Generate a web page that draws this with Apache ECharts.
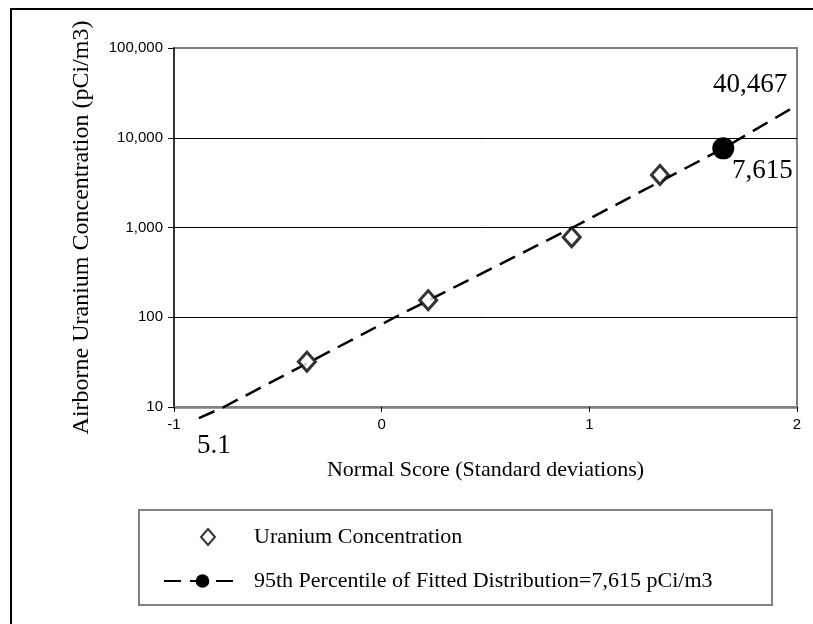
<!DOCTYPE html>
<html>
<head>
<meta charset="utf-8">
<script src="https://cdn.jsdelivr.net/npm/echarts@6/dist/echarts.min.js"></script>
<style>
  html, body { margin: 0; padding: 0; background: #fff; }
  #chart { width: 813px; height: 624px; }
</style>
</head>
<body>
<div id="chart"></div>
<script>
// measured points (normal score, pCi/m3)
const normalScores = [-0.36, 0.224, 0.915, 1.34];
const concentrations = [32, 155, 780, 3850];

// fitted lognormal line
const fitScores = [-0.88, -0.76, 0.064, 0.92, 1.645, 2.0];
const fitValues = [7.5, 10, 100, 1000, 7615, 23000];
const percentileIdx = 4;
const fitNotes = ['5.1', '7,615', '40,467'];

const xTicks = [-1, 0, 1, 2];
const yTicks = [10, 100, 1000, 10000, 100000];

const serif = 'Liberation Serif';
const sans = 'Liberation Sans';

const chart = echarts.init(document.getElementById('chart'));

const fitData = fitScores.map((x, i) => {
    const item = { value: [x, fitValues[i]] };
    if (i !== percentileIdx) item.symbolSize = 0;
    return item;
});
const noteStyle = { show: true, color: '#000', fontFamily: serif, fontSize: 27, position: 'inside', align: 'center', verticalAlign: 'middle' };
fitData[0].label = Object.assign({}, noteStyle, { formatter: fitNotes[0], offset: [15, 28] });
fitData[percentileIdx].label = Object.assign({}, noteStyle, { formatter: fitNotes[1], offset: [39, 23] });
fitData[fitData.length - 1].label = Object.assign({}, noteStyle, { formatter: fitNotes[2], offset: [-47, -20] });

chart.setOption({
    animation: false,
    backgroundColor: '#fff',
    grid: {
        left: 174,
        right: 16,
        top: 48,
        bottom: 217,
        show: true,
        borderColor: '#808080',
        borderWidth: 2
    },
    legend: [
        {
            data: ['Uranium Concentration'],
            left: 200,
            top: 526,
            itemWidth: 14,
            itemHeight: 16,
            padding: 0,
            textStyle: { fontFamily: serif, fontSize: 22, color: '#000', padding: [0, 0, 0, 34] }
        },
        {
            data: ['95th Percentile of Fitted Distribution=7,615 pCi/m3'],
            left: 163,
            top: 570,
            itemWidth: 77,
            itemHeight: 17,
            padding: 0,
            textStyle: { fontFamily: serif, fontSize: 22, color: '#000', padding: [0, 0, 0, 8] }
        }
    ],
    xAxis: {
        type: 'value',
        min: xTicks[0],
        max: xTicks[xTicks.length - 1],
        interval: 1,
        name: 'Normal Score (Standard deviations)',
        nameLocation: 'middle',
        nameGap: 52,
        nameTextStyle: { fontFamily: serif, fontSize: 22, color: '#000' },
        axisLine: { show: true, onZero: false, lineStyle: { color: '#808080', width: 2.5 } },
        axisTick: { show: true, length: 5, lineStyle: { color: '#000', width: 1 } },
        axisLabel: { fontFamily: sans, fontSize: 15, color: '#000', margin: 10 },
        splitLine: { show: false }
    },
    yAxis: {
        type: 'log',
        logBase: 10,
        min: yTicks[0],
        max: yTicks[yTicks.length - 1],
        name: 'Airborne Uranium Concentration (pCi/m3)',
        nameLocation: 'middle',
        nameRotate: 90,
        nameGap: 80,
        nameTextStyle: { fontFamily: serif, fontSize: 24, color: '#000' },
        axisLine: { show: true, onZero: false, lineStyle: { color: '#333', width: 2 } },
        axisTick: { show: true, length: 6, lineStyle: { color: '#000', width: 1 } },
        axisLabel: {
            fontFamily: sans, fontSize: 15, color: '#000', margin: 11,
            formatter: v => Math.round(v).toLocaleString('en-US')
        },
        splitLine: { show: true, lineStyle: { color: ['#808080', '#000', '#000', '#000', '#808080'], width: 1 } },
        minorTick: { show: false }
    },
    graphic: [
        {
            type: 'rect',
            shape: { x: 11, y: 9, width: 840, height: 660 },
            style: { fill: 'none', stroke: '#000', lineWidth: 2 },
            silent: true
        },
        {
            type: 'rect',
            shape: { x: 139, y: 510, width: 633, height: 95 },
            style: { fill: 'none', stroke: '#808080', lineWidth: 2 },
            silent: true
        }
    ],
    series: [
        {
            name: '95th Percentile of Fitted Distribution=7,615 pCi/m3',
            type: 'line',
            data: fitData,
            clip: false,
            symbol: 'circle',
            symbolSize: 22,
            showSymbol: true,
            itemStyle: { color: '#000' },
            lineStyle: { color: '#000', width: 2.5, type: [17, 9] },
            z: 2
        },
        {
            name: 'Uranium Concentration',
            type: 'scatter',
            data: normalScores.map((x, i) => [x, concentrations[i]]),
            symbol: 'diamond',
            symbolSize: [17, 19],
            itemStyle: { color: '#fff', borderColor: '#000', borderWidth: 3 },
            z: 3
        }
    ]
});
</script>
</body>
</html>
